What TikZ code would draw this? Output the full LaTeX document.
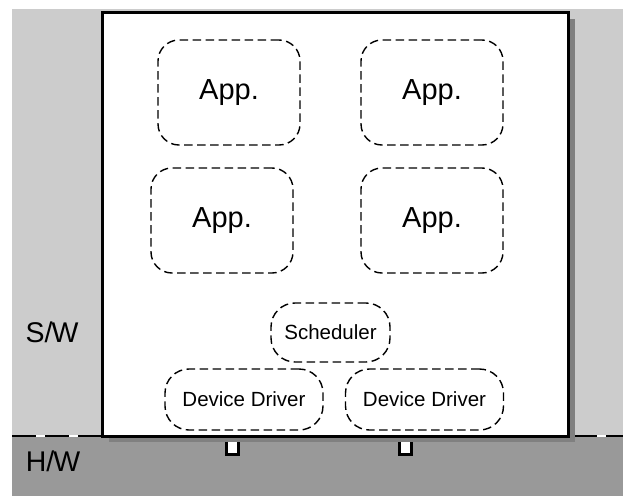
\documentclass[tikz,border=0pt]{standalone}
\usepackage{fontspec}
\setmainfont{Liberation Sans}
\definecolor{swgray}{HTML}{CCCCCC}
\definecolor{hwgray}{HTML}{999999}
\definecolor{shadowgray}{HTML}{808080}
\begin{document}
\begin{tikzpicture}[x=1pt,y=-1pt,
  blob/.style={draw=black, dash pattern=on 8.5pt off 4.5pt, line width=1.4pt,
    rounded corners=21pt, inner sep=0pt, align=center},
  appbox/.style={blob, minimum width=142pt, minimum height=105pt,
    font=\fontsize{29}{32}\selectfont},
  smallbox/.style={blob, rounded corners=24pt,
    font=\fontsize{20.5}{24}\selectfont},
  layerlabel/.style={font=\fontsize{28.5}{32}\selectfont, inner sep=0pt},
  pinbox/.style={fill=white, minimum width=12pt, minimum height=12pt, inner sep=0pt},
  pinedge/.style={draw=black, line width=2.6pt}
]
\useasboundingbox (0,0) rectangle (623,496);
% layers
\fill[swgray] (12,9) rectangle (623,436);
\fill[hwgray] (12,436) rectangle (623,496);
\draw[white, line width=2.6pt] (12,436) -- (623,436);
\draw[black, line width=2.6pt, dash pattern=on 24pt off 9pt] (12,436) -- (623,436);
% system box with shadow
\fill[shadowgray] (109,19) rectangle (575,442);
\draw[line width=3pt, fill=white] (102,12) rectangle (568,436);
% pins
\node[pinbox] (pinA) at (232.5,448) {};
\node[pinbox] (pinB) at (405.5,448) {};
\draw[pinedge] (pinA.north west) |- (pinA.south east) -- (pinA.north east);
\draw[pinedge] (pinB.north west) |- (pinB.south east) -- (pinB.north east);
% apps
\node[appbox] (appTL) at (229,92.5) {App.};
\node[appbox] (appTR) at (432,92.5) {App.};
\node[appbox] (appML) at (222,220.5) {App.};
\node[appbox] (appMR) at (432,220.5) {App.};
% scheduler and drivers
\node[smallbox, minimum width=119pt, minimum height=59pt] (sched) at (330.5,332.5) {Scheduler};
\node[smallbox, minimum width=158pt, minimum height=61pt] (ddL) at (244,399.5) {Device Driver};
\node[smallbox, minimum width=158pt, minimum height=61pt] (ddR) at (424.5,399.5) {Device Driver};
% layer labels
\node[layerlabel] (sw) at (52,332) {S/\kern-1pt W};
\node[layerlabel] (hw) at (53,461) {H/\kern-1pt W};
\end{tikzpicture}
\end{document}
